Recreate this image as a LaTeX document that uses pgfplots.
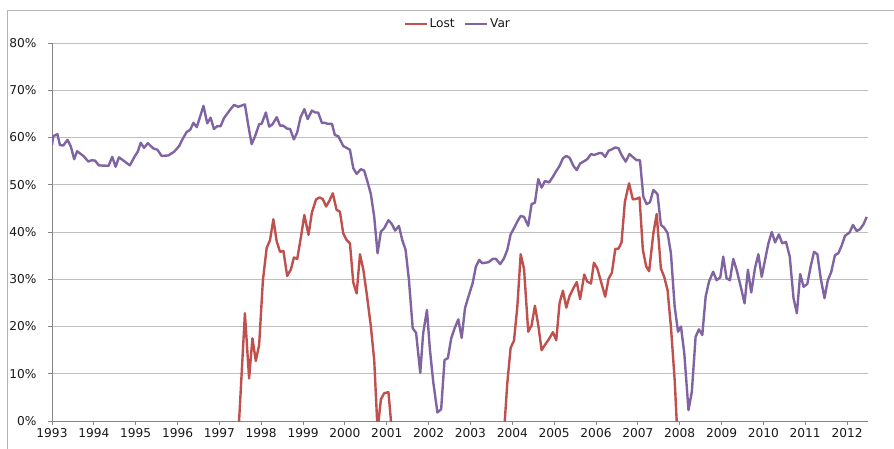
\documentclass[border=0pt]{standalone}
\usepackage{pgfplots}
\pgfplotsset{compat=1.18}
\usepackage{fontspec}
\setmainfont{DejaVu Sans}
\definecolor{lostc}{RGB}{192,80,77}
\definecolor{varc}{RGB}{128,100,162}
\definecolor{gridc}{RGB}{191,191,191}
\definecolor{axisc}{RGB}{134,134,134}
\definecolor{framec}{RGB}{180,180,180}
\definecolor{txt}{RGB}{25,25,25}
\begin{document}
\begin{tikzpicture}[x=1pt,y=1pt]
\useasboundingbox (0,0) rectangle (894,448);
\draw[framec, line width=1pt] (7,-5) -- (7,437.3) -- (900,437.3);
\begin{axis}[
  at={(52pt,27pt)}, anchor=south west,
  scale only axis, width=816pt, height=378pt,
  xmin=1993, xmax=2012.5, ymin=0, ymax=80,
  axis lines*=left,
  axis line style={axisc, line width=1pt},
  tick align=outside, major tick length=4pt,
  tick style={axisc, line width=1pt},
  xtick={1993,1994,1995,1996,1997,1998,1999,2000,2001,2002,2003,2004,2005,2006,2007,2008,2009,2010,2011,2012},
  xticklabels={1993,1994,1995,1996,1997,1998,1999,2000,2001,2002,2003,2004,2005,2006,2007,2008,2009,2010,2011,2012},
  ytick={0,10,20,30,40,50,60,70,80},
  yticklabels={0\%,10\%,20\%,30\%,40\%,50\%,60\%,70\%,80\%},
  /pgf/number format/assume math mode=true,
  ymajorgrids, grid style={gridc, line width=1pt},
  tick label style={font=\fontsize{12.2}{14}\selectfont, text=txt},
  yticklabel style={xshift=-8pt},
  legend style={draw=none, fill=none, at={(0.497,1.050)}, anchor=center,
    font=\fontsize{12.2}{14}\selectfont, text=txt, legend columns=2,
    nodes={inner sep=1.5pt},
    /tikz/every even column/.append style={column sep=8pt}},
  legend image code/.code={\draw[#1] (0pt,0pt) -- (22pt,0pt);},
]
\addplot[lostc, line width=2.4pt, line join=round] table {
1997.30 -10
1997.44 -5
1997.61 22.8
1997.71 9.0
1997.79 17.5
1997.87 12.7
1997.95 16.1
1998.04 29.8
1998.13 36.6
1998.21 38.3
1998.29 42.7
1998.37 38.0
1998.45 35.8
1998.53 36.0
1998.62 30.7
1998.71 32.1
1998.78 34.6
1998.86 34.3
1998.95 39.0
1999.03 43.6
1999.13 39.4
1999.21 44.1
1999.31 46.9
1999.39 47.3
1999.47 47.0
1999.55 45.4
1999.63 46.6
1999.71 48.2
1999.80 44.7
1999.88 44.3
1999.96 39.7
2000.04 38.3
2000.12 37.6
2000.20 29.3
2000.28 27.0
2000.36 35.3
2000.44 32.0
2000.52 27.0
2000.62 20.0
2000.70 12.9
2000.78 -2
2000.86 4.6
2000.94 5.9
2001.04 6.1
2001.12 -2
2001.20 -10
2003.70 -10
2003.79 -4
2003.88 8.0
2003.96 15.5
2004.04 17.0
2004.12 24.2
2004.20 35.3
2004.28 32.2
2004.38 18.9
2004.46 20.2
2004.54 24.4
2004.62 20.3
2004.70 15.0
2004.78 16.1
2004.88 17.4
2004.97 18.8
2005.05 17.1
2005.13 25.0
2005.21 27.6
2005.29 24.0
2005.37 26.5
2005.46 28.1
2005.54 29.4
2005.62 25.8
2005.72 31.0
2005.79 29.5
2005.88 29.1
2005.95 33.5
2006.03 32.3
2006.11 29.8
2006.22 26.3
2006.30 30.1
2006.38 31.4
2006.46 36.4
2006.54 36.5
2006.61 37.8
2006.69 46.4
2006.79 50.3
2006.88 46.9
2006.96 47.0
2007.04 47.3
2007.12 36.2
2007.20 32.7
2007.27 31.7
2007.37 39.7
2007.45 43.8
2007.55 32.3
2007.63 30.5
2007.71 27.7
2007.79 20.0
2007.88 8.7
2007.95 -4
2008.05 -10
};
\addlegendentry{Lost}
\addplot[varc, line width=2.4pt, line join=round] table {
1993.00 58.4
1993.03 60.3
1993.13 60.7
1993.19 58.4
1993.27 58.3
1993.37 59.5
1993.45 58.1
1993.53 55.4
1993.60 57.1
1993.75 56.1
1993.87 54.9
1993.95 55.2
1994.03 55.1
1994.12 54.1
1994.35 54.0
1994.44 55.9
1994.52 53.8
1994.60 55.8
1994.74 54.9
1994.86 54.1
1994.97 55.9
1995.05 57.0
1995.12 58.9
1995.20 57.8
1995.29 58.8
1995.42 57.7
1995.52 57.4
1995.62 56.1
1995.78 56.2
1995.92 57.0
1996.04 58.2
1996.11 59.5
1996.22 61.2
1996.30 61.6
1996.38 63.1
1996.46 62.2
1996.62 66.7
1996.71 63.0
1996.79 64.2
1996.87 61.8
1996.95 62.4
1997.03 62.4
1997.11 64.1
1997.25 65.8
1997.35 66.9
1997.45 66.5
1997.61 67.0
1997.69 62.6
1997.77 58.6
1997.85 60.2
1997.95 62.8
1998.01 62.9
1998.11 65.3
1998.19 62.3
1998.27 62.8
1998.37 64.3
1998.45 62.5
1998.53 62.5
1998.61 61.9
1998.69 61.8
1998.78 59.6
1998.86 61.1
1998.94 64.3
1999.03 66.0
1999.11 63.9
1999.21 65.7
1999.29 65.3
1999.36 65.3
1999.45 63.1
1999.52 63.1
1999.59 62.9
1999.69 62.9
1999.76 60.5
1999.84 60.3
1999.96 58.2
2000.12 57.4
2000.20 53.5
2000.28 52.3
2000.38 53.3
2000.46 53.0
2000.55 50.3
2000.62 48.0
2000.70 43.2
2000.78 35.5
2000.86 40.1
2000.94 40.8
2001.04 42.5
2001.12 41.7
2001.20 40.3
2001.29 41.3
2001.37 38.3
2001.45 36.2
2001.53 29.8
2001.62 19.6
2001.70 18.7
2001.80 10.2
2001.87 18.6
2001.96 23.5
2002.03 15.2
2002.11 8.3
2002.21 1.8
2002.30 2.5
2002.38 12.9
2002.46 13.3
2002.54 17.5
2002.62 19.6
2002.71 21.5
2002.79 17.6
2002.87 23.9
2002.94 26.0
2003.05 29.1
2003.13 32.7
2003.21 34.1
2003.28 33.4
2003.43 33.6
2003.53 34.3
2003.61 34.3
2003.71 33.2
2003.80 34.4
2003.88 36.2
2003.96 39.5
2004.04 40.8
2004.12 42.2
2004.20 43.4
2004.28 43.2
2004.38 41.3
2004.46 45.9
2004.54 46.2
2004.62 51.2
2004.70 49.4
2004.78 50.8
2004.88 50.5
2004.97 51.7
2005.05 52.9
2005.13 54.0
2005.21 55.6
2005.29 56.1
2005.37 55.7
2005.46 54.0
2005.54 53.1
2005.62 54.5
2005.72 55.0
2005.79 55.4
2005.88 56.5
2005.95 56.3
2006.08 56.7
2006.14 56.7
2006.22 55.9
2006.30 57.2
2006.38 57.5
2006.46 57.9
2006.54 57.7
2006.61 56.3
2006.71 54.9
2006.80 56.5
2006.89 55.8
2006.97 55.2
2007.05 55.2
2007.13 47.5
2007.21 45.9
2007.29 46.3
2007.37 48.9
2007.47 48.0
2007.55 41.5
2007.63 40.9
2007.71 39.8
2007.79 35.5
2007.88 24.2
2007.96 18.9
2008.03 20.0
2008.11 14.3
2008.21 2.3
2008.29 6.2
2008.38 17.8
2008.46 19.4
2008.54 18.2
2008.62 26.3
2008.70 29.5
2008.80 31.6
2008.88 29.8
2008.97 30.4
2009.04 34.8
2009.12 30.2
2009.20 29.8
2009.28 34.3
2009.36 32.0
2009.46 28.4
2009.55 24.9
2009.63 32.0
2009.71 27.2
2009.80 32.4
2009.88 35.3
2009.96 30.5
2010.04 34.1
2010.12 37.6
2010.20 40.0
2010.28 37.8
2010.37 39.5
2010.45 37.6
2010.54 37.9
2010.63 34.8
2010.72 26.0
2010.80 22.8
2010.88 31.1
2010.96 28.4
2011.05 29.0
2011.13 32.7
2011.21 35.8
2011.29 35.3
2011.37 30.2
2011.46 26.0
2011.54 29.8
2011.62 31.5
2011.71 35.1
2011.79 35.5
2011.87 37.1
2011.95 39.2
2012.06 39.9
2012.14 41.5
2012.23 40.2
2012.31 40.6
2012.39 41.6
2012.47 43.2
};
\addlegendentry{Var}
\end{axis}
\end{tikzpicture}
\end{document}
